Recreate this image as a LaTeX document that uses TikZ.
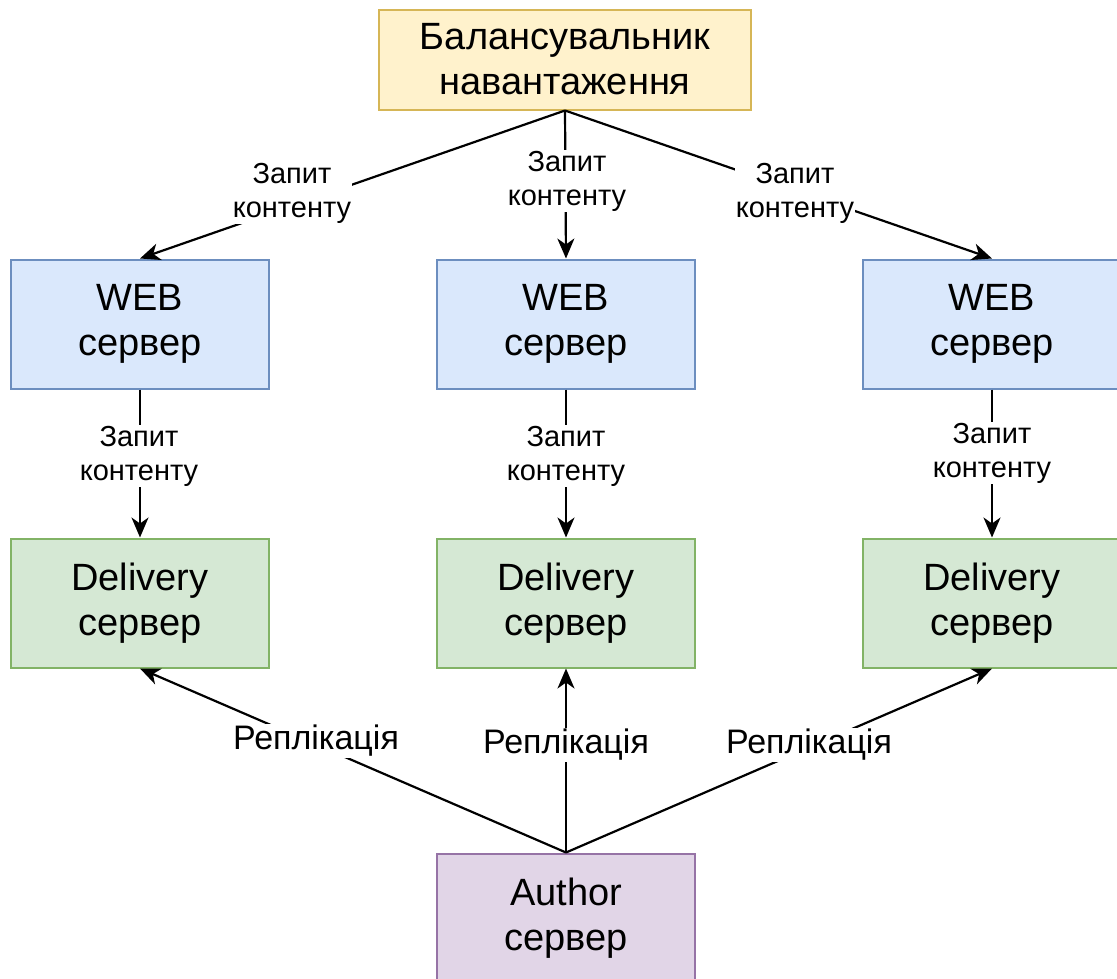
\documentclass[tikz,border=0pt]{standalone}
\usepackage{fontspec}
\setmainfont{Liberation Sans}
\usetikzlibrary{arrows.meta}
\definecolor{ylwF}{HTML}{FFF2CC}\definecolor{ylwD}{HTML}{D6B656}
\definecolor{bluF}{HTML}{DAE8FC}\definecolor{bluD}{HTML}{6C8EBF}
\definecolor{grnF}{HTML}{D5E8D4}\definecolor{grnD}{HTML}{82B366}
\definecolor{prpF}{HTML}{E1D5E7}\definecolor{prpD}{HTML}{9673A6}
\tikzset{
  box/.style={rectangle, line width=2pt, minimum width=258pt, minimum height=129pt,
    align=center, inner sep=0pt, font=\fontsize{38}{45}\selectfont},
  lbbox/.style={box, fill=ylwF, draw=ylwD, minimum width=372pt, minimum height=100pt},
  webbox/.style={box, fill=bluF, draw=bluD},
  delbox/.style={box, fill=grnF, draw=grnD},
  autbox/.style={box, fill=prpF, draw=prpD},
  lbl/.style={fill=white, inner sep=1pt, align=center, font=\fontsize{29}{34}\selectfont},
  replbl/.style={lbl, font=\fontsize{34}{40}\selectfont},
  arr/.style={line width=2.2pt, -{Stealth[length=20pt, width=17pt, inset=6pt]}}
}
\begin{document}
\begin{tikzpicture}[x=1pt,y=-1pt]
\useasboundingbox (0,0) rectangle (1117,978);
\node[lbbox] (lb) at (565,59.5) {Балансувальник\\навантаження};
\node[webbox] (w1) at (140,324) {WEB\\сервер};
\node[webbox] (w2) at (566,324) {WEB\\сервер};
\node[webbox] (w3) at (992,324) {WEB\\сервер};
\node[delbox] (d1) at (140,603) {Delivery\\сервер};
\node[delbox] (d2) at (566,603) {Delivery\\сервер};
\node[delbox] (d3) at (992,603) {Delivery\\сервер};
\node[autbox] (au) at (566,918) {Author\\сервер};

\draw[arr] (lb.south) -- (w1.north);
\draw[arr] (lb.south) -- (w2.north);
\draw[arr] (lb.south) -- (w3.north);
\draw[arr] (w1.south) -- (d1.north);
\draw[arr] (w2.south) -- (d2.north);
\draw[arr] (w3.south) -- (d3.north);
\draw[arr] (au.north) -- (d1.south);
\draw[arr] (au.north) -- (d2.south);
\draw[arr] (au.north) -- (d3.south);

\node[lbl] (t1) at (292,193) {Запит\\контенту};
\node[lbl] (t2) at (567,181) {Запит\\контенту};
\node[lbl] (t3) at (795,193) {Запит\\контенту};
\node[lbl] (m1) at (139,456) {Запит\\контенту};
\node[lbl] (m2) at (566,456) {Запит\\контенту};
\node[lbl] (m3) at (992,453) {Запит\\контенту};
\node[replbl] (r1) at (316,741) {Реплікація};
\node[replbl] (r2) at (566,745) {Реплікація};
\node[replbl] (r3) at (809,745) {Реплікація};
\end{tikzpicture}
\end{document}
